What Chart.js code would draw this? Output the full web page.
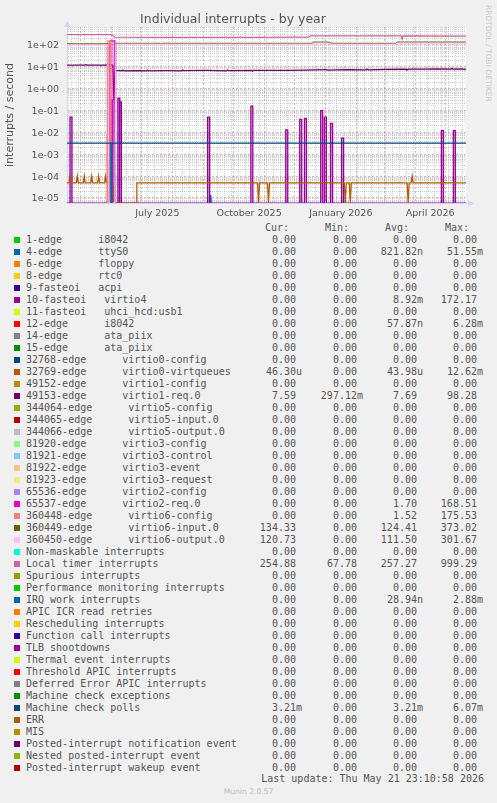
<!DOCTYPE html>
<html>
<head>
<meta charset="utf-8">
<script src="https://cdn.jsdelivr.net/npm/chart.js@4.4.1/dist/chart.umd.min.js"></script>
<style>
    html, body { margin: 0; padding: 0; background: #f0f0f0; }
    #page { position: relative; width: 497px; height: 803px; overflow: hidden; }
    #chartBox { position: absolute; left: 0; top: 0; width: 497px; height: 220px; }
    .txt { position: absolute; font: 10px "DejaVu Sans Mono", monospace; line-height: 12px; color: #555; white-space: pre; }
    .sw { position: absolute; width: 6px; height: 6px; }
    #munin { position: absolute; left: 0; width: 497px; top: 787px; text-align: center; font: 7.6px "DejaVu Sans", sans-serif; color: #bbb; }
</style>
</head>
<body>
<div id="page">
    <div id="chartBox"><canvas id="interrupts"></canvas></div>
    <div id="legend"></div>
    <div id="munin">Munin 2.0.57</div>
</div>
<script>
// ---- legend rows (munin field order) ----
const seriesNames = [
    '1-edge      i8042', '4-edge      ttyS0', '6-edge      floppy', '8-edge      rtc0',
    '9-fasteoi   acpi', '10-fasteoi   virtio4', '11-fasteoi   uhci_hcd:usb1', '12-edge      i8042',
    '14-edge      ata_piix', '15-edge      ata_piix', '32768-edge      virtio0-config',
    '32769-edge      virtio0-virtqueues', '49152-edge      virtio1-config', '49153-edge      virtio1-req.0',
    '344064-edge      virtio5-config', '344065-edge      virtio5-input.0', '344066-edge      virtio5-output.0',
    '81920-edge      virtio3-config', '81921-edge      virtio3-control', '81922-edge      virtio3-event',
    '81923-edge      virtio3-request', '65536-edge      virtio2-config', '65537-edge      virtio2-req.0',
    '360448-edge      virtio6-config', '360449-edge      virtio6-input.0', '360450-edge      virtio6-output.0',
    'Non-maskable interrupts', 'Local timer interrupts', 'Spurious interrupts',
    'Performance monitoring interrupts', 'IRQ work interrupts', 'APIC ICR read retries',
    'Rescheduling interrupts', 'Function call interrupts', 'TLB shootdowns', 'Thermal event interrupts',
    'Threshold APIC interrupts', 'Deferred Error APIC interrupts', 'Machine check exceptions',
    'Machine check polls', 'ERR', 'MIS', 'Posted-interrupt notification event',
    'Nested posted-interrupt event', 'Posted-interrupt wakeup event'
];
const seriesColors = [
    '#00CC00', '#0066B3', '#FF8000', '#FFCC00', '#330099', '#990099', '#CCFF00', '#FF0000',
    '#808080', '#008F00', '#00487D', '#B35A00', '#B38F00', '#6B006B', '#8FB300', '#B30000',
    '#BEBEBE', '#80FF80', '#80C9FF', '#FFC080', '#FFE680', '#AA80FF', '#EE00CC', '#FF8080',
    '#666600', '#FFBFFF', '#00FFCC', '#CC6699', '#999900',
    '#00CC00', '#0066B3', '#FF8000', '#FFCC00', '#330099', '#990099', '#CCFF00', '#FF0000',
    '#808080', '#008F00', '#00487D', '#B35A00', '#B38F00', '#6B006B', '#8FB300', '#B30000'
];
const curValues = ['0.00','0.00','0.00','0.00','0.00','0.00','0.00','0.00','0.00','0.00','0.00','46.30u','0.00','7.59','0.00','0.00','0.00','0.00','0.00','0.00','0.00','0.00','0.00','0.00','134.33','120.73','0.00','254.88','0.00','0.00','0.00','0.00','0.00','0.00','0.00','0.00','0.00','0.00','0.00','3.21m','0.00','0.00','0.00','0.00','0.00'];
const minValues = ['0.00','0.00','0.00','0.00','0.00','0.00','0.00','0.00','0.00','0.00','0.00','0.00','0.00','297.12m','0.00','0.00','0.00','0.00','0.00','0.00','0.00','0.00','0.00','0.00','0.00','0.00','0.00','67.78','0.00','0.00','0.00','0.00','0.00','0.00','0.00','0.00','0.00','0.00','0.00','0.00','0.00','0.00','0.00','0.00','0.00'];
const avgValues = ['0.00','821.82n','0.00','0.00','0.00','8.92m','0.00','57.87n','0.00','0.00','0.00','43.98u','0.00','7.69','0.00','0.00','0.00','0.00','0.00','0.00','0.00','0.00','1.70','1.52','124.41','111.50','0.00','257.27','0.00','0.00','28.94n','0.00','0.00','0.00','0.00','0.00','0.00','0.00','0.00','3.21m','0.00','0.00','0.00','0.00','0.00'];
const maxValues = ['0.00','51.55m','0.00','0.00','0.00','172.17','0.00','6.28m','0.00','0.00','0.00','12.62m','0.00','98.28','0.00','0.00','0.00','0.00','0.00','0.00','0.00','0.00','168.51','175.53','373.02','301.67','0.00','999.29','0.00','0.00','2.88m','0.00','0.00','0.00','0.00','0.00','0.00','0.00','0.00','6.07m','0.00','0.00','0.00','0.00','0.00'];

// ---- axis ----
const Y_MIN = 5.9e-6;
const Y_MAX = 664;
const X_MAX = 400;                      // days shown (munin "year" = 400 days)
const graphStart = Date.UTC(2025, 3, 16, 23, 10, 58);
const yTickLabels = ['1e-05', '1e-04', '1e-03', '1e-02', '1e-01', '1e+00', '1e+01', '1e+02'];
const xTickLabels = ['July 2025', 'October 2025', 'January 2026', 'April 2026'];
const xLabelMonths = [[2025, 6], [2025, 9], [2026, 0], [2026, 3]];

// ---- series: [day since graph start, interrupts/s] ----
const ttyS0Points = [[142.7, 0], [143.2, 1.27e-5], [144.2, 1.27e-5], [144.7, 0]];
// virtio4 spikes: [day, value]
const virtio4Spikes = [[4, 0.05], [45, 0.3], [52, 0.37], [53.5, 0.25], [142, 0.05], [185.3, 0.16],
    [220.3, 0.013], [234.3, 0.04], [239, 0.043], [255.3, 0.1], [259, 0.05], [265.3, 0.026],
    [276.3, 0.0055], [376.3, 0.012], [388.3, 0.012]];
const i8042Points = [[40.5, 0], [40.5, 6.28e-3], [41.5, 6.28e-3], [41.5, 0]];
const virtqueuePoints = [[0, 4.9e-5], [2, 4.9e-5], [3, 1e-4], [4, 4.9e-5], [9.3, 4.9e-5], [10.3, 1e-4],
    [11.3, 4.9e-5], [16.3, 4.9e-5], [17.3, 1e-4], [18.3, 4.9e-5], [23.7, 4.9e-5], [24.7, 1e-4],
    [25.7, 4.9e-5], [30.7, 4.9e-5], [31.7, 1e-4], [32.7, 4.9e-5], [37.7, 4.9e-5], [38.7, 1e-4],
    [39.7, 4.9e-5], [46, 4.9e-5], [46.5, 0], [69.5, 0], [70, 4.9e-5], [191, 4.9e-5], [192, 0],
    [193, 4.9e-5], [201, 4.9e-5], [202, 0], [203, 4.9e-5], [278, 4.9e-5], [279, 0], [280, 4.9e-5],
    [283, 4.9e-5], [284, 0], [285, 4.9e-5], [341, 4.9e-5], [342, 0], [343, 4.9e-5], [345, 4.9e-5],
    [346, 1e-4], [347, 4.9e-5], [400, 4.9e-5]];
const virtio1ReqPoints = [[0, 12.1], [5, 12.1], [6, 11.6], [7, 12.1], [18, 12], [19, 12.5], [20, 12],
    [33, 12], [34, 11.5], [35, 12], [44, 12.2], [46, 11.8], [47, 0.3], [48, 6.8], [55, 6.6], [56, 7.2],
    [57, 6.6], [70, 6.7], [80, 6.5], [81, 7], [82, 6.6], [100, 6.7], [115, 6.6], [116, 7.1], [117, 6.7],
    [140, 6.8], [160, 6.6], [161, 7.1], [162, 6.7], [185, 6.8], [186, 6.3], [187, 6.8], [200, 6.9],
    [220, 6.8], [240, 7.0], [260, 7.5], [261, 7.0], [280, 7.4], [300, 7.3], [301, 7.8], [302, 7.3],
    [320, 7.6], [340, 7.8], [341, 7.1], [342, 7.8], [360, 7.9], [370, 8.1], [385, 7.9], [386, 8.6],
    [387, 7.9], [395, 8.1], [400, 7.6]];
const virtio2ReqPoints = [[43, 0], [43, 155], [48, 155], [48, 0]];
const virtio6ConfigPoints = [[40.5, 0], [40.5, 150], [44, 150], [44, 0]];
const virtio6InputPoints = [[0, 111], [12, 111], [13, 107], [14, 111], [30, 112], [41, 111], [42, 0],
    [48, 0], [49, 119], [93, 119], [94, 114], [95, 119], [246, 119], [247, 135], [262, 135], [263, 122],
    [266, 122], [267, 119], [330, 119], [331, 136], [362, 136], [363, 128], [364, 136], [375, 136],
    [376, 129], [377, 136], [392, 136], [393, 130], [394, 136], [400, 135]];
const virtio6OutputPoints = [[0, 101], [41, 101], [42, 0], [48, 0], [49, 108], [246, 108], [247, 122],
    [262, 122], [263, 109], [330, 108], [331, 122], [400, 121]];
const localTimerPoints = [[0, 297], [20, 300], [44, 297], [46, 270], [48, 226], [90, 224], [158, 225],
    [159, 233], [160, 225], [173, 225], [174, 232], [175, 225], [191, 225], [192, 231], [193, 225],
    [224, 226], [225, 233], [226, 226], [242, 226], [244, 258], [298, 258], [299, 265], [300, 258],
    [335, 258], [336, 185], [337, 258], [400, 257]];
const irqWorkPoints = [[44, 0], [44, 2.88e-3], [45, 2.88e-3], [45, 0]];
const mcePollPoints = [[0, 3.21e-3], [400, 3.21e-3]];

// ---- helpers ----
function dayOf(y, m, d) { return (Date.UTC(y, m, d) - graphStart) / 864e5; }

function spikeSteps(spikes) {
    const pts = [[0, 0]];
    spikes.forEach(([d, v]) => { pts.push([d - 1, 0], [d - 1, v], [d + 1, v], [d + 1, 0]); });
    pts.push([X_MAX, 0]);
    return pts;
}

// zero can't be shown on a log axis; rrdtool parks it on the bottom edge
function toXY(points) {
    return points.map(([x, y]) => ({ x: x, y: y > 0 ? y : Y_MIN }));
}

function buildXTicks(scale) {
    const ticks = [];
    const months = [];
    for (let y = 2025, m = 4; y < 2026 || m <= 4; m++) {
        if (m > 11) { m = 0; y++; }
        months.push(dayOf(y, m, 1));
    }
    months.forEach(v => ticks.push({ value: v, kind: 'major' }));
    for (let v = dayOf(2025, 3, 21); v < X_MAX; v += 7) {
        if (!months.some(m => Math.abs(m - v) < 0.5)) ticks.push({ value: v, kind: 'minor' });
    }
    xLabelMonths.forEach(([y, m], i) => {
        const mid = (dayOf(y, m, 1) + dayOf(y, m + 1, 1)) / 2;
        ticks.push({ value: mid, kind: 'label', text: xTickLabels[i] });
    });
    ticks.sort((a, b) => a.value - b.value);
    scale.ticks = ticks;
}

function buildYTicks(scale) {
    const ticks = [];
    for (let e = -6; e <= 2; e++) {
        for (let m = 1; m <= 9; m++) {
            const v = m * Math.pow(10, e);
            if (v < Y_MIN || v > Y_MAX) continue;
            ticks.push({ value: v, kind: m === 1 ? 'major' : 'minor', text: m === 1 ? yTickLabels[e + 5] : '' });
        }
    }
    scale.ticks = ticks;
}

function gridColor(ctx) {
    if (!ctx.tick) return 'rgba(0,0,0,0)';
    if (ctx.tick.kind === 'major') return 'rgba(222,79,79,0.45)';
    if (ctx.tick.kind === 'minor') return 'rgba(150,150,150,0.45)';
    return 'rgba(0,0,0,0)';
}

function gridDash(ctx) {
    return ctx.tick && ctx.tick.kind === 'major' ? [2, 2] : [1, 1];
}

// ---- legend ----
function renderLegend() {
    const box = document.getElementById('legend');
    const rowTop = i => 233.7 + 12 * i;
    const addText = (txt, top, left, right) => {
        const d = document.createElement('div');
        d.className = 'txt';
        d.textContent = txt;
        d.style.top = top + 'px';
        if (left !== null) d.style.left = left + 'px';
        else { d.style.right = (497 - right) + 'px'; d.style.textAlign = 'right'; }
        box.appendChild(d);
    };
    const fmt = s => /[0-9]$/.test(s) ? s + ' ' : s;
    const headTop = rowTop(0) - 11.5;
    [['Cur:', 289], ['Min:', 349], ['Avg:', 409], ['Max:', 469]].forEach(([h, r]) => addText(h, headTop, null, r));
    seriesNames.forEach((name, i) => {
        const sw = document.createElement('div');
        sw.className = 'sw';
        sw.style.left = '14px';
        sw.style.top = (rowTop(i) + 3) + 'px';
        sw.style.background = seriesColors[i];
        box.appendChild(sw);
        addText(name, rowTop(i), 26, null);
        addText(fmt(curValues[i]), rowTop(i), null, 302);
        addText(fmt(minValues[i]), rowTop(i), null, 363);
        addText(fmt(avgValues[i]), rowTop(i), null, 423);
        addText(fmt(maxValues[i]), rowTop(i), null, 483);
    });
    addText('Last update: Thu May 21 23:10:58 2026', rowTop(45) - 0.4, null, 484);
}

// ---- chart ----
const plotted = [
    { row: 1, points: ttyS0Points },
    { row: 5, points: spikeSteps(virtio4Spikes), fill: 'rgba(153,0,153,0.3)' },
    { row: 7, points: i8042Points },
    { row: 11, points: virtqueuePoints },
    { row: 13, points: virtio1ReqPoints },
    { row: 22, points: virtio2ReqPoints, fill: 'rgba(238,0,204,0.3)' },
    { row: 23, points: virtio6ConfigPoints, fill: 'rgba(255,128,128,0.45)' },
    { row: 24, points: virtio6InputPoints },
    { row: 25, points: virtio6OutputPoints },
    { row: 27, points: localTimerPoints },
    { row: 30, points: irqWorkPoints },
    { row: 39, points: mcePollPoints }
];

const muninFrame = {
    id: 'muninFrame',
    beforeDraw(chart) {
        const { ctx, chartArea: a } = chart;
        ctx.save();
        ctx.fillStyle = '#ffffff';
        ctx.fillRect(a.left, a.top, a.right - a.left, a.bottom - a.top);
        ctx.restore();
    },
    afterDraw(chart) {
        const { ctx, chartArea: a } = chart;
        ctx.save();
        ctx.fillStyle = '#CFD6F8';
        ctx.beginPath();
        ctx.moveTo(a.left - 3, a.top);
        ctx.lineTo(a.left + 3.5, a.top);
        ctx.lineTo(a.left + 0.5, a.top - 6);
        ctx.closePath();
        ctx.fill();
        ctx.fillRect(a.right, a.bottom - 0.5, 3, 1);
        ctx.beginPath();
        ctx.moveTo(a.right + 2, a.bottom - 3);
        ctx.lineTo(a.right + 2, a.bottom + 3.5);
        ctx.lineTo(a.right + 8, a.bottom + 0.5);
        ctx.closePath();
        ctx.fill();
        ctx.translate(488, 5);
        ctx.rotate(Math.PI / 2);
        ctx.font = '7.5px "DejaVu Sans"';
        ctx.fillStyle = '#c8c8c8';
        ctx.textBaseline = 'middle';
        ctx.fillText('RRDTOOL / TOBI OETIKER', 0, 0);
        ctx.restore();
    }
};

Chart.defaults.font.family = '"DejaVu Sans", sans-serif';
Chart.defaults.color = '#555';

new Chart(document.getElementById('interrupts').getContext('2d'), {
    type: 'line',
    data: {
        datasets: plotted.map(p => ({
            label: seriesNames[p.row],
            data: toXY(p.points),
            borderColor: seriesColors[p.row],
            backgroundColor: p.fill || seriesColors[p.row],
            fill: p.fill ? 'start' : false,
            borderWidth: 1.25,
            pointRadius: 0,
            tension: 0,
            order: -p.row
        }))
    },
    options: {
        animation: false,
        responsive: true,
        maintainAspectRatio: false,
        devicePixelRatio: 1,
        events: [],
        layout: { padding: { left: 0, right: 31, top: 0, bottom: 0 } },
        plugins: {
            legend: { display: false },
            tooltip: { enabled: false },
            title: {
                display: true,
                text: 'Individual interrupts - by year',
                color: '#555',
                font: { size: 12.5, weight: 'normal' },
                padding: { top: 12, bottom: 0 }
            }
        },
        scales: {
            x: {
                type: 'linear',
                min: 0,
                max: X_MAX,
                bounds: 'data',
                afterBuildTicks: buildXTicks,
                afterFit: s => { s.height = 17; },
                ticks: {
                    autoSkip: false,
                    maxRotation: 0,
                    minRotation: 0,
                    padding: 5,
                    color: '#555',
                    font: { size: 9.5 },
                    callback: (v, i, ticks) => ticks[i].text || ''
                },
                grid: { color: gridColor, drawTicks: false, lineWidth: 1 },
                border: { color: '#CFD6F8', dash: gridDash }
            },
            y: {
                type: 'logarithmic',
                min: Y_MIN,
                max: Y_MAX,
                bounds: 'data',
                afterBuildTicks: buildYTicks,
                afterFit: s => { s.width = 67; },
                ticks: {
                    autoSkip: false,
                    padding: 8,
                    labelOffset: 1,
                    color: '#555',
                    font: { size: 9.5 },
                    callback: (v, i, ticks) => ticks[i].text || ''
                },
                title: {
                    display: true,
                    text: 'interrupts / second',
                    color: '#555',
                    font: { size: 11 },
                    padding: { top: 4, bottom: 0 }
                },
                grid: { color: gridColor, drawTicks: false, lineWidth: 1 },
                border: { color: '#CFD6F8', dash: gridDash }
            }
        }
    },
    plugins: [muninFrame]
});

renderLegend();
</script>
</body>
</html>
